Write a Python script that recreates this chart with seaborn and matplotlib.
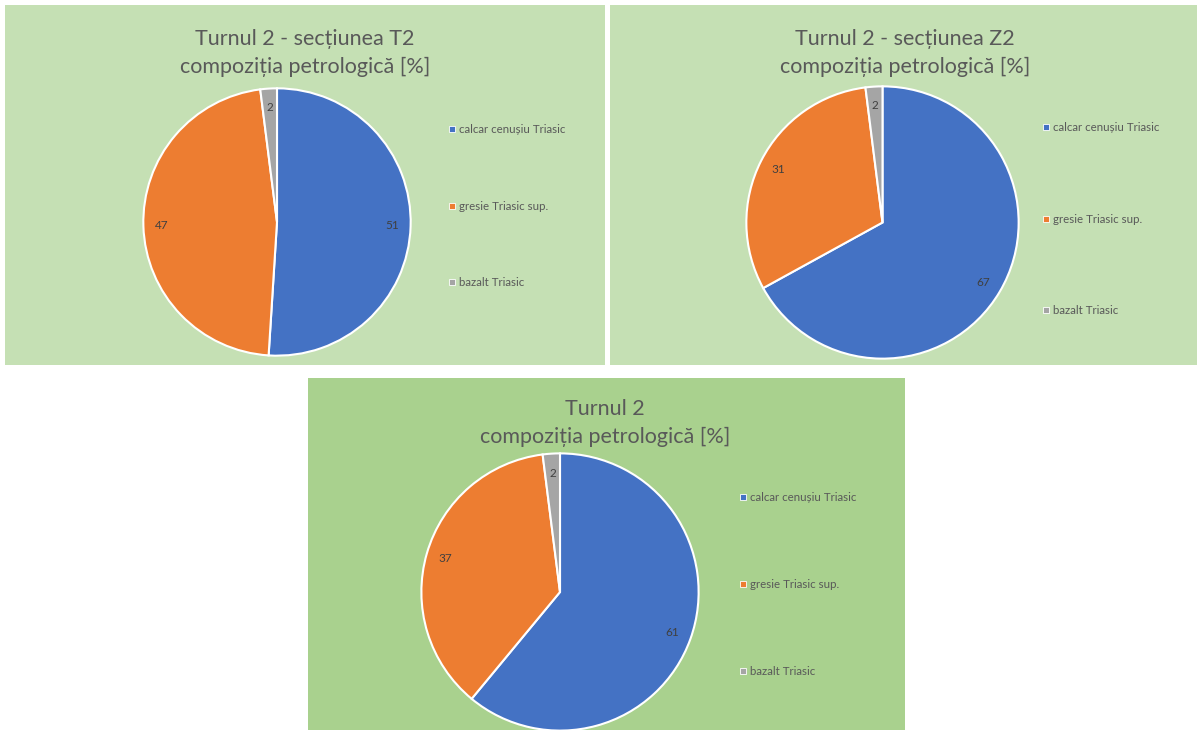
import matplotlib
matplotlib.use("Agg")
import matplotlib.pyplot as plt
import seaborn as sns
from matplotlib.patches import Rectangle
from matplotlib.lines import Line2D

# date
categorii = ["calcar cenușiu Triasic", "gresie Triasic sup.", "bazalt Triasic"]
titluri = ["Turnul 2 - secțiunea T2\ncompoziția petrologică [%]",
           "Turnul 2 - secțiunea Z2\ncompoziția petrologică [%]",
           "Turnul 2\ncompoziția petrologică [%]"]
valori_T2 = [51, 47, 2]
valori_Z2 = [67, 31, 2]
valori_total = [61, 37, 2]

sns.set_theme(style="white")
plt.rcParams['font.family'] = ['Lato', 'DejaVu Sans']
culori = sns.color_palette(["#4472c4", "#ed7d31", "#a5a5a5"])

W, H = 1197, 730
fig = plt.figure(figsize=(W / 100, H / 100), dpi=100)
fig.patch.set_facecolor("white")


def fr(x0, y0, x1, y1):
    # pixeli (sus-stanga) -> fractiuni figura
    return [x0 / W, 1 - y1 / H, (x1 - x0) / W, (y1 - y0) / H]


# panouri: fundal, cutia pie, centrul titlului, legenda
panouri = [
    dict(bg=(5, 5, 605, 365), fc="#c5e0b4", pie=(142, 87, 412, 357),
         tx=305, ty=53, leg=(449, 124), val=valori_T2, sp=5.7),
    dict(bg=(610, 5, 1197, 365), fc="#c5e0b4", pie=(745, 85, 1020, 360),
         tx=905, ty=53, leg=(1043, 122), val=valori_Z2, sp=7.0),
    dict(bg=(308, 378, 905, 730), fc="#a9d18e", pie=(420, 452, 700, 732),
         tx=605, ty=423, leg=(740, 492), val=valori_total, sp=6.6),
]

for p, titlu in zip(panouri, titluri):
    bx = fr(*p["bg"])
    fig.patches.append(Rectangle((bx[0], bx[1]), bx[2], bx[3], transform=fig.transFigure,
                                 facecolor=p["fc"], edgecolor="none", zorder=-5))
    ax = fig.add_axes(fr(*p["pie"]))
    ax.pie(p["val"], colors=culori, startangle=90, counterclock=False,
           autopct=lambda v: f"{v:.0f}", pctdistance=0.86,
           wedgeprops=dict(edgecolor="white", linewidth=1.5),
           textprops=dict(fontsize=8.5, color="#404040"))
    ax.set_xlim(-1.01, 1.01)
    ax.set_ylim(-1.01, 1.01)
    ax.set_aspect("equal")
    ax.patch.set_alpha(0)
    ax.set_zorder(2)

    fig.text(p["tx"] / W, 1 - p["ty"] / H, titlu, ha="center", va="center",
             fontsize=15.5, color="#595959", linespacing=1.5)

    handles = [Line2D([], [], marker="s", linestyle="none", markersize=4.5,
                      markerfacecolor=c, markeredgecolor="white", markeredgewidth=0.6)
               for c in culori]
    fig.legend(handles, categorii, loc="upper left",
               bbox_to_anchor=(p["leg"][0] / W, 1 - p["leg"][1] / H),
               frameon=False, fontsize=8.3, labelcolor="#595959",
               handlelength=0.5, handletextpad=0.4, labelspacing=p["sp"],
               borderpad=0, borderaxespad=0)

fig.savefig("out.png", dpi=100)
